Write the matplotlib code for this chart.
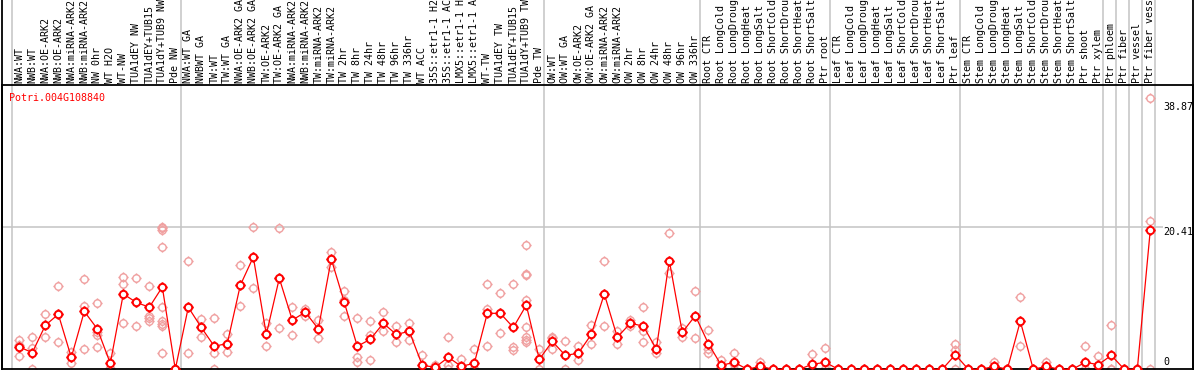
import numpy as np
import matplotlib
matplotlib.use("Agg")
import matplotlib.pyplot as plt
from matplotlib.path import Path

# sample names (top labels)
labels = [
    "NWA:WT", "NWB:WT", "NWA:OE-ARK2", "NWB:OE-ARK2", "NWA:miRNA-ARK2", "NWB:miRNA-ARK2",
    "NW 0hr", "WT H2O", "WT-NW", "TUA1dEY NW", "TUA1dEY+TUB15", "TUA1dY+TUB9 NW", "Pde NW",
    "NWA:WT GA", "NWBWT GA", "TW:WT", "TW:WT GA", "NWA:OE-ARK2 GA", "NWB:OE-ARK2 GA",
    "TW:OE-ARK2", "TW:OE-ARK2 GA", "NWA:miRNA-ARK2", "NWB:miRNA-ARK2", "TW:miRNA-ARK2",
    "TW:miRNA-ARK2", "TW 2hr", "TW 8hr", "TW 24hr", "TW 48hr", "TW 96hr", "TW 336hr",
    "WT ACC", "35S::etr1-1 H2O", "35S::etr1-1 ACC", "LMX5::etr1-1 H2O", "LMX5::etr1-1 ACC",
    "WT-TW", "TUA1dEY TW", "TUA1dEY+TUB15", "TUA1dY+TUB9 TW", "Pde TW",
    "OW:WT", "OW:WT GA", "OW:OE-ARK2", "OW:OE-ARK2 GA", "OW:miRNA-ARK2", "OW:miRNA-ARK2",
    "OW 2hr", "OW 8hr", "OW 24hr", "OW 48hr", "OW 96hr", "OW 336hr",
    "Root CTR", "Root LongCold", "Root LongDrought", "Root LongHeat", "Root LongSalt",
    "Root ShortCold", "Root ShortDrought", "Root ShortHeat", "Root ShortSalt", "Ptr root",
    "Leaf CTR", "Leaf LongCold", "Leaf LongDrought", "Leaf LongHeat", "Leaf LongSalt",
    "Leaf ShortCold", "Leaf ShortDrought", "Leaf ShortHeat", "Leaf ShortSalt", "Ptr leaf",
    "Stem CTR", "Stem LongCold", "Stem LongDrought", "Stem LongHeat", "Stem LongSalt",
    "Stem ShortCold", "Stem ShortDrought", "Stem ShortHeat", "Stem ShortSalt",
    "Ptr shoot", "Ptr xylem", "Ptr phloem", "Ptr fiber", "Ptr vessel", "Ptr fiber vessel",
]

# mean expression per sample
means = [
    3.2, 2.4, 6.3, 7.9, 1.7, 8.3, 5.8, 0.86, 10.8, 9.6, 8.9, 11.8, 0.0,
    8.9, 6.0, 3.3, 3.7, 12.05, 16.1, 5.0, 13.05, 7.05, 8.2, 5.8, 15.8, 9.6, 3.3,
    4.3, 6.6, 5.0, 5.45, 0.57, 0.29, 1.72, 0.43, 0.86, 8.03, 8.03, 6.0, 9.2, 1.43,
    4.0, 2.0, 2.3, 5.0, 10.8, 4.6, 6.6, 6.2, 2.9, 15.6, 5.3, 7.7,
    3.7, 0.57, 1.0, 0.0, 0.43, 0.0, 0.0, 0.0, 0.72, 1.0,
    0.0, 0.0, 0.0, 0.0, 0.0, 0.0, 0.0, 0.0, 0.0, 2.1,
    0.0, 0.0, 0.43, 0.0, 6.9, 0.0, 0.43, 0.0, 0.0, 1.0, 0.67,
    2.0, 0.0, 0.0, 20.0,
]

# individual replicates per sample
reps = [
    [4.2, 3.5, 1.9], [4.6, 3.1, 0.0], [7.9, 6.3, 4.7], [11.9, 7.9, 3.9], [2.5, 1.7, 0.95],
    [12.9, 9.1, 2.9], [9.5, 5.3, 4.9, 3.2], [2.3, 0.15, 0.0], [13.2, 12.3, 6.6],
    [13.05, 9.6, 6.2], [11.9, 7.6, 7.3, 6.9],
    [20.45, 20.2, 20.0, 17.6, 8.9, 6.9, 6.45, 6.2, 2.3], [0.0, 0.0, 0.0],
    [15.6, 8.9, 2.3], [7.2, 6.0, 4.7], [7.3, 2.4, 0.0], [5.0, 3.7, 2.5], [14.9, 12.05, 9.1],
    [20.4, 16.1, 11.6], [6.7, 5.0, 3.4], [20.2, 13.05, 5.9], [9.0, 7.05, 4.9],
    [8.6, 8.2, 7.7], [7.1, 5.8, 4.45], [16.8, 15.8, 14.7], [11.3, 10.0, 7.6],
    [7.3, 1.7, 1.0], [6.9, 4.9, 1.3], [8.2, 6.6, 5.45], [6.2, 5.0, 3.9], [6.6, 5.45, 4.2],
    [2.0, 0.0, 0.0], [0.57, 0.14, 0.0], [4.6, 0.57, 0.0], [1.43, 0.0, 0.0], [2.87, 0.0, 0.0],
    [12.2, 8.6, 3.3], [11.0, 8.03, 5.2], [12.3, 3.2, 2.7],
    [17.9, 13.7, 13.5, 9.9, 6.0, 4.6, 4.2, 3.9], [2.9, 1.43, 0.0],
    [4.7, 4.45, 2.9], [4.0, 2.0, 0.0], [3.4, 2.3, 1.3], [6.3, 5.0, 3.7], [15.5, 10.8, 6.2],
    [5.45, 4.6, 3.7], [7.0, 6.6, 6.2], [9.0, 5.45, 3.9], [3.9, 2.9, 2.3], [19.5, 15.6, 13.8],
    [5.9, 5.3, 4.7], [11.2, 7.7, 4.45],
    [5.6, 2.9, 2.4], [1.3, 0.4, 0.0], [2.3, 0.7, 0.0], [0.0, 0.0, 0.0], [1.0, 0.3, 0.0],
    [0.0, 0.0, 0.0], [0.0, 0.0, 0.0], [0.0, 0.0, 0.0], [2.15, 0.0, 0.0], [3.0, 0.0, 0.0],
    [0.0, 0.0, 0.0], [0.0, 0.0, 0.0], [0.0, 0.0, 0.0], [0.0, 0.0, 0.0], [0.0, 0.0, 0.0],
    [0.0, 0.0, 0.0], [0.0, 0.0, 0.0], [0.0, 0.0, 0.0], [0.0, 0.0, 0.0], [3.7, 2.7, 0.0],
    [0.0, 0.0, 0.0], [0.0, 0.0, 0.0], [1.0, 0.3, 0.0], [0.0, 0.0, 0.0], [10.4, 6.9, 3.4],
    [0.0, 0.0, 0.0], [1.0, 0.3, 0.0], [0.0, 0.0, 0.0], [0.0, 0.0, 0.0], [3.3, 0.0, 0.0],
    [1.86, 0.15, 0.0], [6.3, 0.0, 0.0], [0.0, 0.0, 0.0], [0.0, 0.0, 0.0], [38.87, 21.2, 0.0],
]

# first sample of each block (vertical separators)
group_starts = [0, 13, 41, 53, 63, 73, 84, 85, 86, 87, 88]
gene = "Potri.004G108840"
axis_marks = [38.87, 20.41, 0]

mono = "DejaVu Sans Mono"
fs = 7.2

# circle with four little ticks
t = 1.4
ticks = Path([(1, 0), (t, 0), (-1, 0), (-t, 0), (0, 1), (0, t), (0, -1), (0, -t)],
             [Path.MOVETO, Path.LINETO] * 4)
ring = Path.make_compound_path(Path.unit_circle(), ticks)

W, H = 1194, 370
fig = plt.figure(figsize=(W / 100, H / 100), dpi=100)
top_px, bot_px, left_px, right_px = 85, 369.3, 2, 1193
ax = fig.add_axes([left_px / W, (H - bot_px) / H, (right_px - left_px) / W, (bot_px - top_px) / H])

x = np.arange(len(labels))
xmin = (left_px - 19.3) / 13
xmax = (right_px - 19.3) / 13
ax.set_xlim(xmin, xmax)
ax.set_ylim(0, (bot_px - top_px) / 6.972)

ext = 1 + top_px / (bot_px - top_px)
for g in group_starts:
    ax.axvline(g - 0.6, 0, ext, color="#c4c4c4", lw=1.1, clip_on=False, zorder=0)
for xb in [xmin, xmax]:
    ax.axvline(xb, 0, ext, color="black", lw=1.3, clip_on=False, zorder=5)
ax.hlines(20.41, xmin, 87.95, color="#c4c4c4", lw=1.1, zorder=0)

rx = [i for i, r in enumerate(reps) for _ in r]
ry = [v for r in reps for v in r]
ax.plot(rx, ry, ls="none", marker=ring, ms=7.4, mec="#f0a0a0", mfc="none", mew=1.0,
        clip_on=False, zorder=2)
ax.plot(x, means, color="red", lw=0.9, marker=ring, ms=7.4, mec="red", mfc="white",
        mew=1.4, clip_on=False, zorder=3)

ax.set_xticks(x)
ax.set_xticklabels(labels, rotation=90, fontsize=fs, family=mono)
ax.xaxis.tick_top()
ax.tick_params(axis="x", length=0, pad=1.7)
ax.set_yticks([])
for s in ax.spines.values():
    s.set_color("black")
    s.set_linewidth(1.3)

offsets = [-6.3, -3.6, 5.0]
for v, dy in zip(axis_marks, offsets):
    ax.annotate(str(v), xy=(87.98, v), xytext=(0, dy), textcoords="offset points",
                ha="left", va="center", fontsize=fs, family=mono)

ax.text(0.006, 0.956, gene, transform=ax.transAxes, color="red", fontsize=fs,
        family=mono, ha="left", va="center")

fig.savefig("out.png", dpi=100)
